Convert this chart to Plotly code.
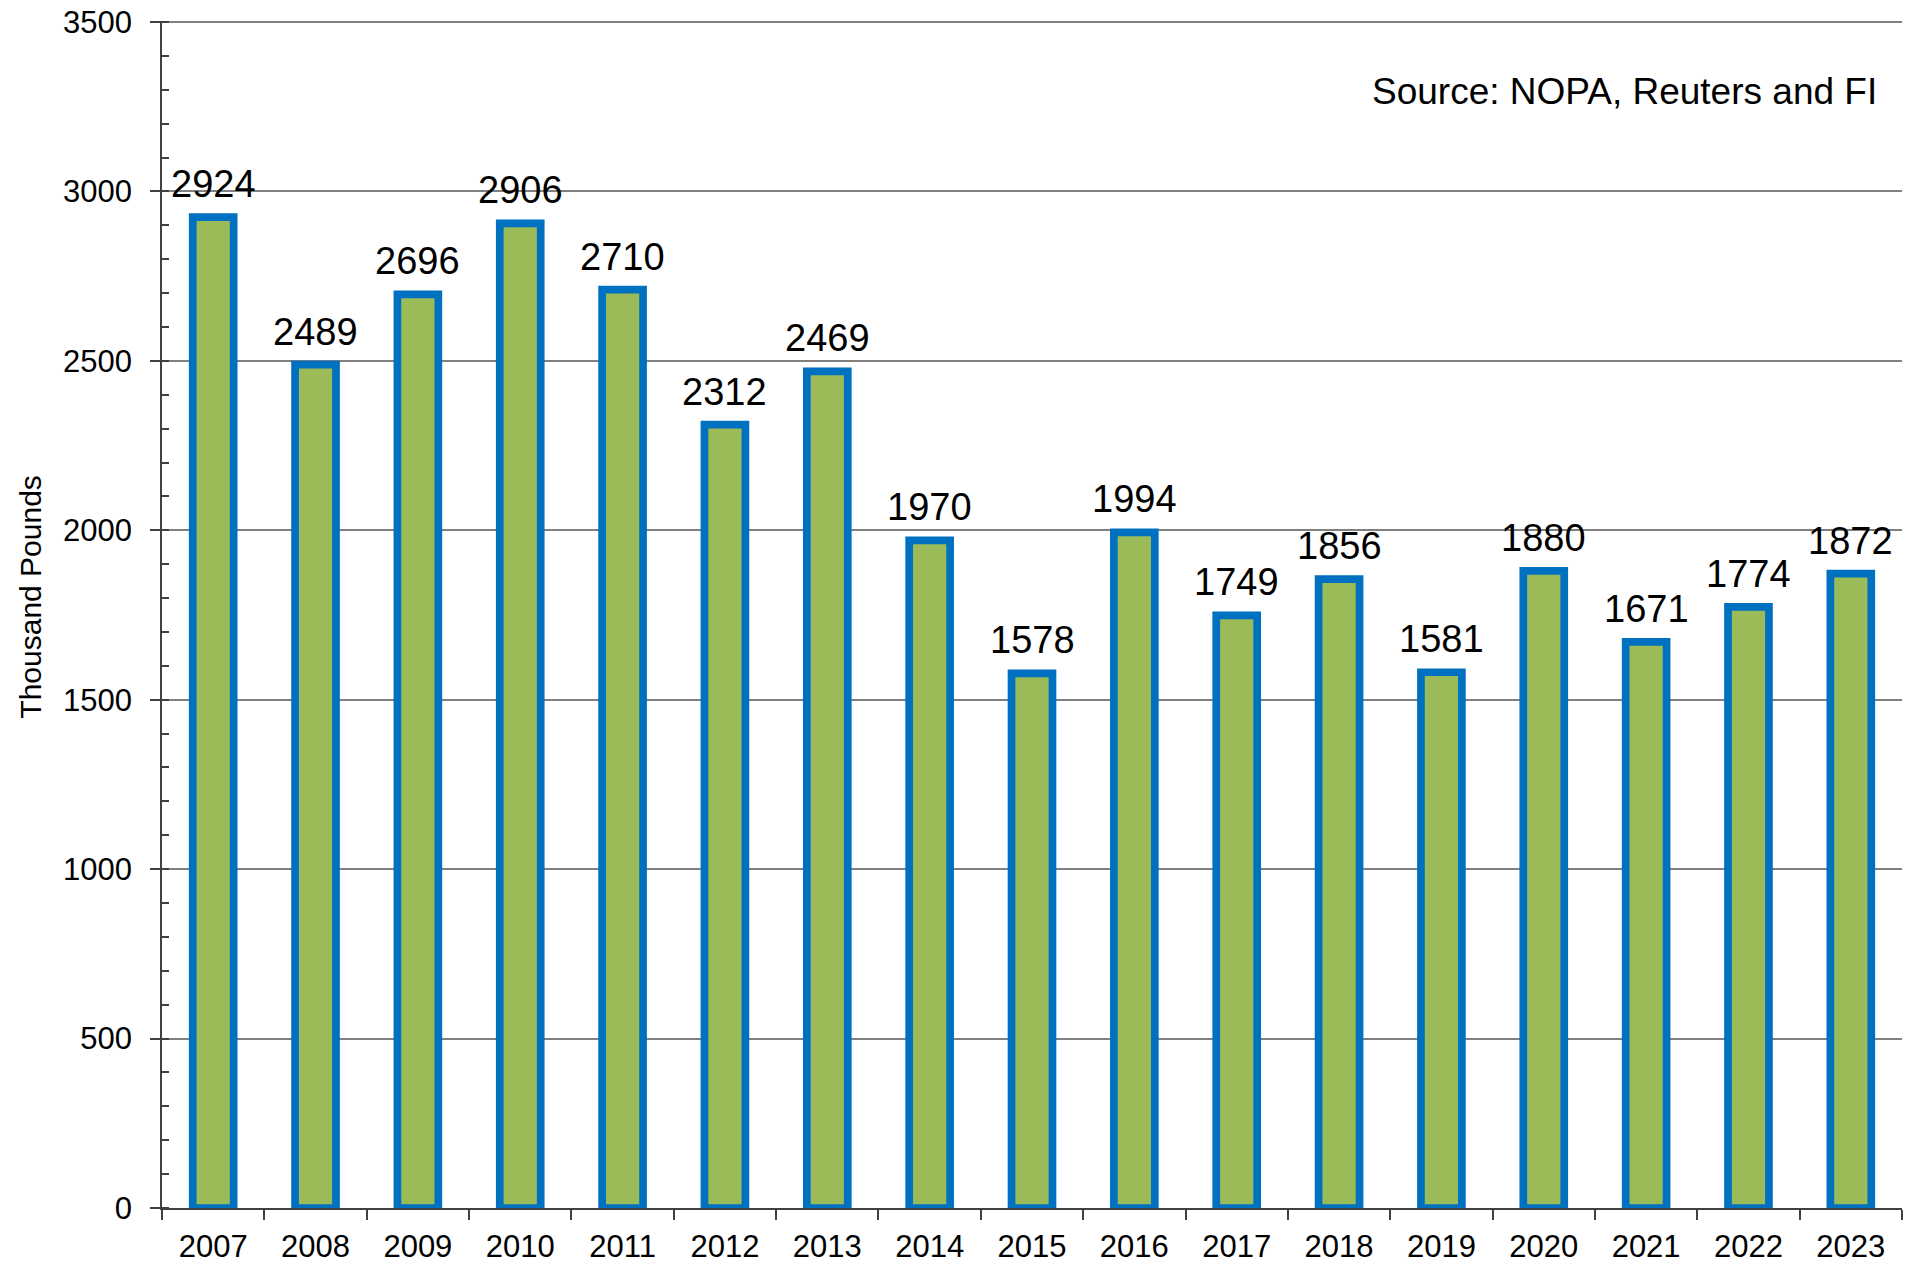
import plotly.graph_objects as go

years = ["2007", "2008", "2009", "2010", "2011", "2012", "2013", "2014", "2015",
         "2016", "2017", "2018", "2019", "2020", "2021", "2022", "2023"]
values = [2924, 2489, 2696, 2906, 2710, 2312, 2469, 1970, 1578,
          1994, 1749, 1856, 1581, 1880, 1671, 1774, 1872]
y_title = "Thousand Pounds"
source_text = "Source: NOPA, Reuters and FI"

FONT = "Liberation Sans, Arial, sans-serif"

fig = go.Figure()
fig.add_trace(go.Bar(
    x=years, y=values, width=0.4,
    marker=dict(color="#9BBB59", line=dict(color="#0070C0", width=7.7)),
    hoverinfo="x+y",
))

for i, v in enumerate(values):
    fig.add_annotation(x=i, y=v, text=str(v), showarrow=False, xanchor="center",
                       yanchor="bottom", yshift=10,
                       font=dict(family=FONT, size=38, color="black"))

fig.add_annotation(xref="paper", yref="paper", x=0.9868, y=0.9404, text=source_text,
                   showarrow=False, xanchor="right", yanchor="middle",
                   font=dict(family=FONT, size=37, color="black"))

fig.add_annotation(xref="paper", yref="paper", x=-0.0753, y=0.515, text=y_title,
                   textangle=-90, showarrow=False, xanchor="center", yanchor="middle",
                   font=dict(family=FONT, size=30, color="black"))

fig.update_layout(
    width=1917, height=1264,
    margin=dict(l=154, r=23, t=13, b=64, autoexpand=False),
    plot_bgcolor="white", paper_bgcolor="white",
    showlegend=False,
    font=dict(family=FONT, color="black"),
)
fig.update_xaxes(
    type="category", range=[-0.5, len(years) - 0.5], autorange=False,
    tickson="boundaries", ticks="outside", ticklen=10,
    tickcolor="#404040", tickwidth=1.5,
    showline=True, linecolor="#404040", linewidth=1.5,
    showgrid=False, tickfont=dict(size=31, family=FONT, color="black"),
    ticklabelstandoff=10,
)
fig.update_yaxes(
    range=[0, 3503], autorange=False, dtick=500, tick0=0,
    ticks="outside", ticklen=10, tickcolor="#404040", tickwidth=1.5,
    showline=True, linecolor="#404040", linewidth=1.5,
    showgrid=True, gridcolor="#808080", gridwidth=1.5,
    zeroline=False, ticklabeloverflow="allow",
    minor=dict(dtick=100, ticks="inside", ticklen=7, tickcolor="#404040", tickwidth=1.5, showgrid=False),
    tickfont=dict(size=31, family=FONT, color="black"),
    ticklabelstandoff=12,
)

fig.write_html("out.html")
